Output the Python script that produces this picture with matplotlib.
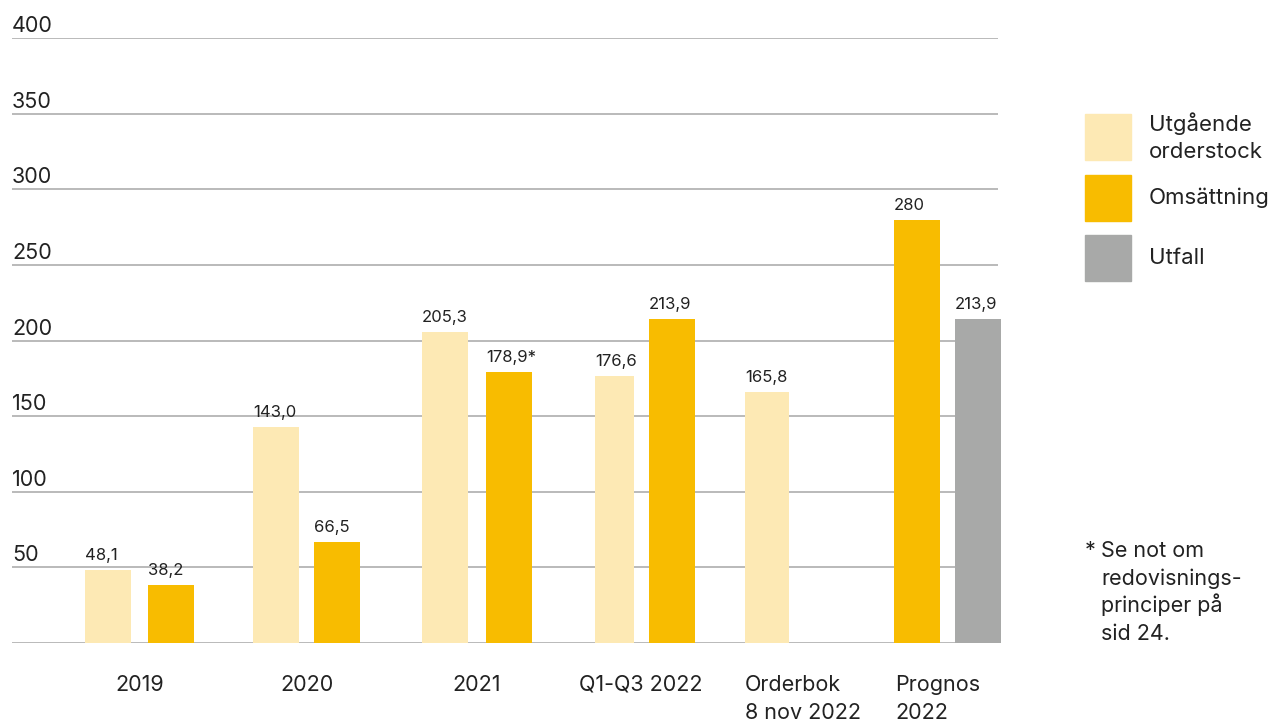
import matplotlib
matplotlib.use("Agg")
import matplotlib.pyplot as plt
from matplotlib.patches import Rectangle

plt.rcParams['font.family'] = ['Inter', 'DejaVu Sans']

# data
categories = ["2019", "2020", "2021", "Q1-Q3 2022", "Orderbok\n8 nov 2022", "Prognos\n2022"]
orderstock = [48.1, 143.0, 205.3, 176.6, 165.8]
omsattning = [38.2, 66.5, 178.9, 213.9, 280]
utfall = [213.9]
orderstock_lbl = ["48,1", "143,0", "205,3", "176,6", "165,8"]
omsattning_lbl = ["38,2", "66,5", "178,9*", "213,9", "280"]
utfall_lbl = ["213,9"]
yticks = [50, 100, 150, 200, 250, 300, 350, 400]
footnote = ["Se not om", "redovisnings-", "principer på", "sid 24."]

# layout (pixel-ish x units)
x_order = [85, 253, 422, 595, 745]
w_order = [46, 46, 46, 39, 44]
x_oms = [148, 314, 486, 649, 894]
x_utf = [955]
bw = 46
cat_x = [140, 307, 477, 641, 745, 895]
cat_ha = ["center", "center", "center", "center", "left", "left"]

c_light = "#FDE9B4"
c_orange = "#F8BC00"
c_grey = "#A8A9A8"
c_text = "#222222"

W, H = 1279, 723
fig = plt.figure(figsize=(W / 100, H / 100), dpi=100)
ax = fig.add_axes([12 / W, 80 / H, (998 - 12) / W, (643 - 38) / H])
ax.set_xlim(12, 998)
ax.set_ylim(0, 400)
ax.axis("off")

for v in [0] + yticks:
    ax.axhline(v, color="#b4b4b4", lw=1.3, zorder=1)
    if v > 0:
        ax.annotate(str(v), (12, v), xytext=(0, 4.3), textcoords="offset points",
                    ha="left", va="baseline", fontsize=15.5, color=c_text,
                    annotation_clip=False)

def bars(xs, vals, widths, color, labels):
    rects = ax.bar(xs, vals, width=widths, align="edge", color=color, zorder=2,
                   clip_on=False)
    for r, lab in zip(rects, labels):
        ax.annotate(lab, (r.get_x(), r.get_height()), xytext=(0, 7.2),
                    textcoords="offset points", ha="left", va="baseline",
                    fontsize=12, color=c_text)

bars(x_order, orderstock, w_order, c_light, orderstock_lbl)
bars(x_oms, omsattning, bw, c_orange, omsattning_lbl)
bars(x_utf, utfall, bw, c_grey, utfall_lbl)

for x, lab, ha in zip(cat_x, categories, cat_ha):
    ax.annotate(lab, (x, 0), xytext=(0, -23), textcoords="offset points",
                ha=ha, va="top", fontsize=15.5, color=c_text, linespacing=1.5,
                annotation_clip=False)

# legend
def fx(px):
    return px / W

def fy(py):
    return 1 - py / H

legend_items = [("Utgående\norderstock", c_light), ("Omsättning", c_orange), ("Utfall", c_grey)]
legend_top = [114, 175, 235]
for (lab, col), top in zip(legend_items, legend_top):
    fig.add_artist(Rectangle((fx(1085), fy(top + 46)), 46 / W, 46 / H,
                             transform=fig.transFigure, color=col))
    fig.text(fx(1149), fy(top + 23), lab, ha="left", va="center", fontsize=16,
             color=c_text, linespacing=1.45)

fig.text(fx(1085), fy(557), "*", ha="left", va="baseline", fontsize=15.5, color=c_text)
for i, line in enumerate(footnote):
    fig.text(fx(1101), fy(557 + 27.7 * i), line, ha="left", va="baseline",
             fontsize=15.5, color=c_text)

fig.savefig("out.png", dpi=100)
